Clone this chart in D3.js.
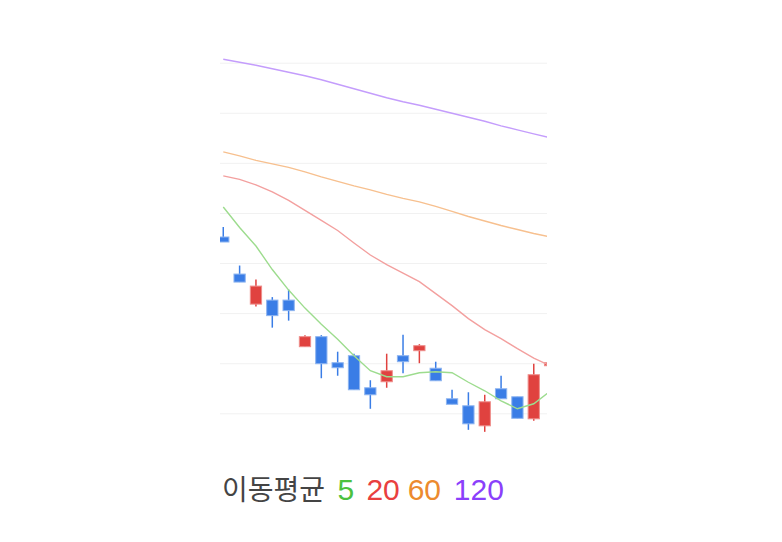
<!DOCTYPE html>
<html><head><meta charset="utf-8">
<script src="https://cdn.jsdelivr.net/npm/d3@7"></script>
<style>body{margin:0;background:#fff;}svg{display:block;}</style>
</head><body>
<div id="chart"></div>
<script>
// candle data (index, open, high, low, close)
const opens  = [9352,9278,9218,9226,9226,9133,9153,9101,9115,9051,9063,9115,9125,9090,9029,9015,8975,9049,9033,8989,9095];
const highs  = [9372,9295,9267,9232,9247,9156,9156,9123,9119,9066,9119,9157,9138,9103,9047,9042,9037,9075,9033,9099,9101];
const lows   = [9342,9262,9213,9171,9185,9133,9070,9075,9047,9009,9051,9080,9100,9065,9018,8967,8963,9029,8990,8985,9095];
const closes = [9342,9262,9254,9195,9205,9153,9099,9091,9047,9037,9085,9103,9135,9065,9018,8979,9023,9029,8990,9077,9101];
// moving averages
const ma5   = [9412,9371,9334,9287,9246,9210,9178,9148,9115,9085,9073,9073,9081,9083,9081,9062,9045,9025,9009,9019,9044];
const ma20  = [9474,9467,9456,9442,9425,9405,9385,9365,9340,9316,9297,9280,9263,9239,9215,9189,9167,9149,9129,9110,9095];
const ma60  = [9522,9514,9505,9498,9491,9482,9472,9463,9454,9446,9437,9429,9422,9413,9403,9393,9384,9375,9367,9359,9352];
const ma120 = [9707,9701,9695,9688,9681,9674,9666,9657,9648,9639,9630,9622,9615,9607,9599,9591,9583,9574,9566,9558,9550];
const yTicks = [9000,9100,9200,9300,9400,9500,9600,9700];
const legendLabel = "이동평균";
const legendItems = [["5","#4cc13f"],["20","#e9403f"],["60","#ec8a2e"],["120","#8b3ffb"]];

(function(){
const W = 782, H = 542;
const pL = 220, pR = 547, pT = 40, pB = 445;
const svg = d3.select("#chart").append("svg").attr("width", W).attr("height", H);

const x = d3.scaleLinear().domain([-0.2, 19.81]).range([pL, pR]);
const y = d3.scaleLinear().domain([9000, 9700]).range([413.3, 62.7]);
const step = x(1) - x(0);
const bw = step * 0.69;

svg.append("defs").append("clipPath").attr("id","clip")
  .append("rect").attr("x", pL).attr("y", pT).attr("width", pR-pL).attr("height", pB-pT);

// gridlines
const yAxis = d3.axisLeft(y).tickValues(yTicks).tickSize(-(pR-pL)).tickFormat("");
const ga = svg.append("g").attr("transform", `translate(${pL},0)`).call(yAxis);
ga.select(".domain").remove();
ga.selectAll(".tick line").attr("stroke", "#f1f1f1").attr("stroke-width", 1);

const plot = svg.append("g").attr("clip-path", "url(#clip)");

const candles = opens.map((o,i)=>({i, o, h: highs[i], l: lows[i], c: closes[i]}));
const up = d => d.c >= d.o;
const fillC = d => up(d) ? "#e0423f" : "#3a7de6";
const strokeC = d => up(d) ? "#ee8e8b" : "#8db4f0";

plot.selectAll("line.wick").data(candles).enter().append("line")
  .attr("class","wick")
  .attr("x1", d=>x(d.i)).attr("x2", d=>x(d.i))
  .attr("y1", d=>y(d.h)).attr("y2", d=>y(d.l))
  .attr("stroke", fillC).attr("stroke-width", 1.5);

plot.selectAll("rect.body").data(candles).enter().append("rect")
  .attr("class","body")
  .attr("x", d=>x(d.i)-bw/2)
  .attr("y", d=>y(Math.max(d.o,d.c)))
  .attr("width", bw)
  .attr("height", d=>Math.max(1, Math.abs(y(d.o)-y(d.c))))
  .attr("fill", fillC).attr("stroke", strokeC).attr("stroke-width", 1);

const line = d3.line().x((d,i)=>x(i)).y(d=>y(d));
const series = [[ma5,"#9ddc8e"],[ma20,"#f3a09f"],[ma60,"#f7c08f"],[ma120,"#c49dfc"]];
series.forEach(([arr,col])=>{
  plot.append("path").datum(arr).attr("d", line)
    .attr("fill","none").attr("stroke", col).attr("stroke-width", 1.4);
});

// legend
const gaps = [4, 4, -0.5, 4.5];
const t = svg.append("text").attr("x", 222).attr("y", 500);
t.append("tspan").attr("fill", "#444")
  .attr("font-family", "'Noto Sans CJK KR',sans-serif").attr("font-size", 28)
  .text(legendLabel);
legendItems.forEach(([lab,col],k)=>{
  t.append("tspan").attr("fill", col)
    .attr("font-family", "'Liberation Sans',Arial,sans-serif").attr("font-size", 30)
    .attr("dx", gaps[k])
    .text(" " + lab);
});
})();
</script>
</body></html>
